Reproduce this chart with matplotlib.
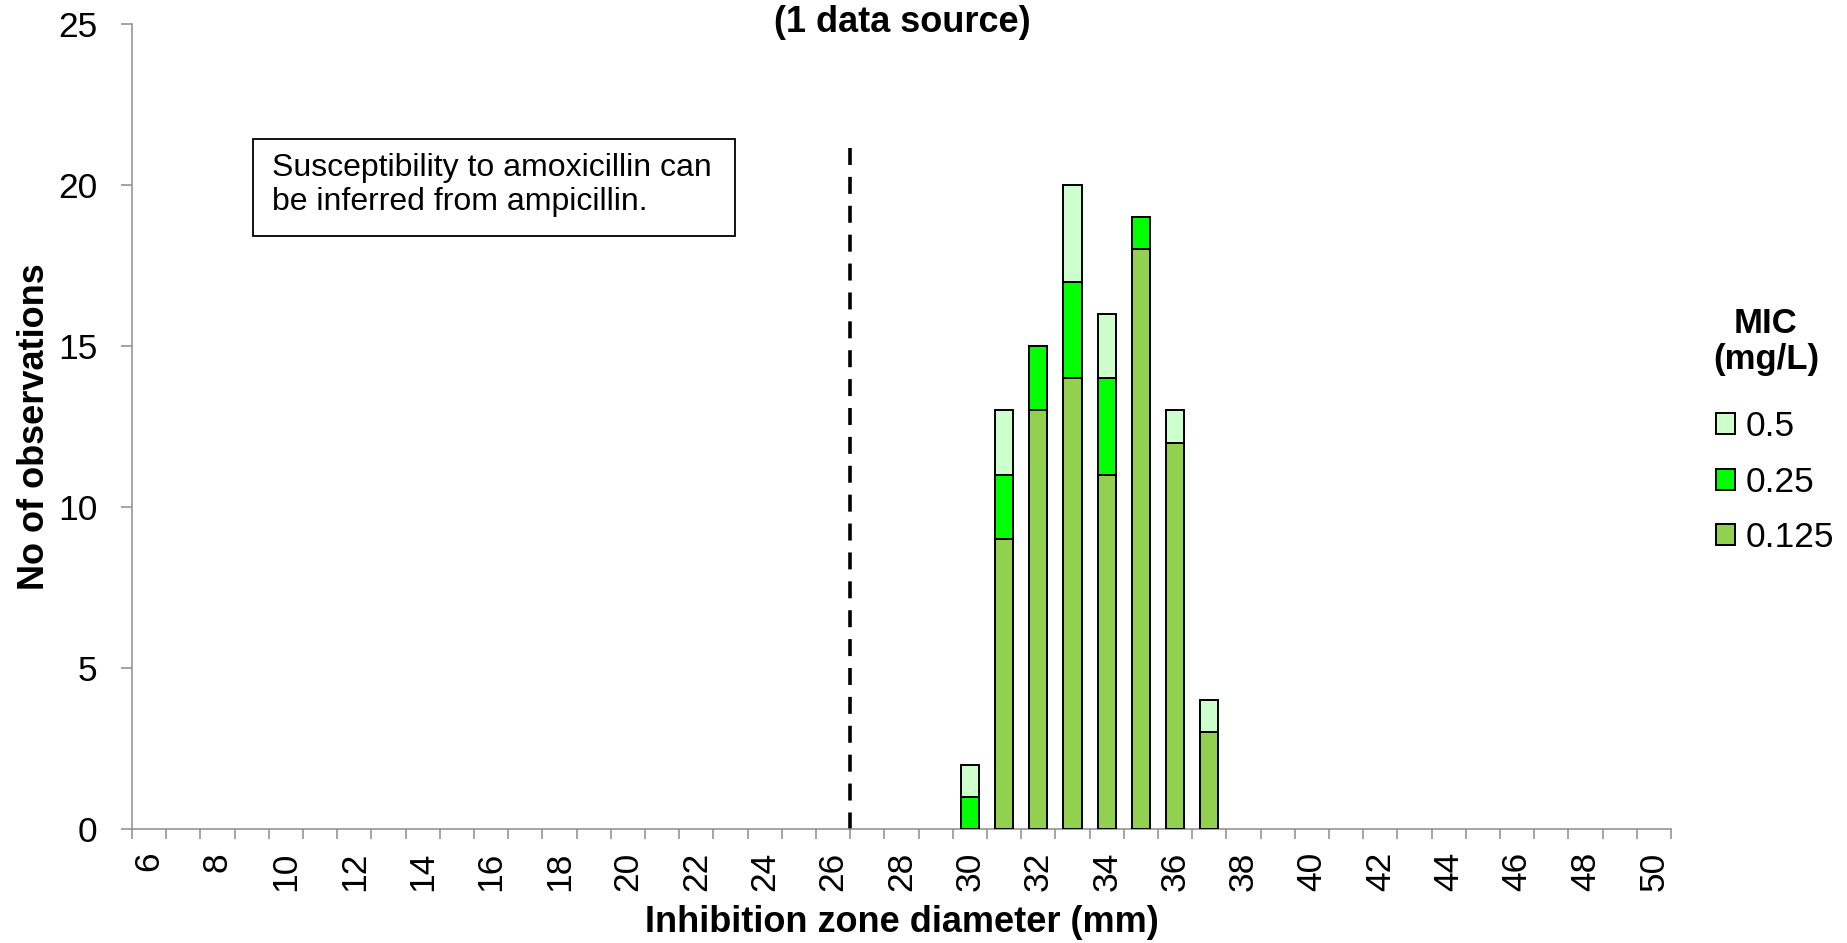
import numpy as np
import matplotlib
matplotlib.use('Agg')
import matplotlib.pyplot as plt

# Inhibition zone diameters (mm) shown on the category axis
zone_mm = list(range(6, 51))
tick_zones = list(range(6, 51, 2))

# Observations per zone diameter, split by MIC (mg/L)
bar_zones = [30, 31, 32, 33, 34, 35, 36, 37]
mic_0125 = [0, 9, 13, 14, 11, 18, 12, 3]
mic_025 = [1, 2, 2, 3, 3, 1, 0, 0]
mic_05 = [1, 2, 0, 3, 2, 0, 1, 1]
mic_labels = ['0.125', '0.25', '0.5']
mic_colors = ['#92D050', '#00FF00', '#CCFFCC']

# Zone diameter breakpoint line (between 26 and 27 mm) and its height
breakpoint_mm = 26.5
breakpoint_top = 21.15

note_text = 'Susceptibility to amoxicillin can\nbe inferred from ampicillin.'

plt.rcParams['font.family'] = ['Liberation Sans', 'DejaVu Sans']
AXIS_GRAY = '#8C8C8C'
W, H = 1847, 943

fig = plt.figure(figsize=(W / 100, H / 100), dpi=100)
ax = fig.add_axes([132 / W, 1 - 829 / H, (1671 - 132) / W, (829 - 24) / H])


def pos(z):
    return zone_mm.index(z)


x = np.array([pos(z) for z in bar_zones])
bottom = np.zeros(len(bar_zones))
handles = []
for vals, lab, col in zip([mic_0125, mic_025, mic_05], mic_labels, mic_colors):
    vals = np.array(vals, dtype=float)
    b = ax.bar(x, vals, width=0.53, bottom=bottom, color=col,
               edgecolor='black', linewidth=1.4, label=lab, zorder=3)
    handles.append(b)
    bottom += vals

# breakpoint, drawn from the top down so the dash pattern starts at the top
bx = pos(int(breakpoint_mm)) + (breakpoint_mm - int(breakpoint_mm))
ax.vlines(bx, breakpoint_top, 0, colors='black', linewidth=2.6,
          linestyles=(0, (4.7, 3.3)), zorder=2)

ax.set_xlim(-0.5, len(zone_mm) - 0.5)
ax.set_ylim(0, 25)
ax.set_yticks(range(0, 26, 5))

ax.set_xticks([pos(z) for z in tick_zones])
ax.set_xticklabels([str(z) for z in tick_zones], rotation=90)
ax.set_xticks(np.arange(-0.5, len(zone_mm)), minor=True)
ax.tick_params(axis='x', which='major', length=0, pad=16.5, labelsize=25.5)
ax.tick_params(axis='x', which='minor', length=7.5, width=1.1, color=AXIS_GRAY)
ax.tick_params(axis='y', length=8, width=1.1, color=AXIS_GRAY, pad=17, labelsize=25.5)

for s in ['top', 'right']:
    ax.spines[s].set_visible(False)
for s in ['left', 'bottom']:
    ax.spines[s].set_color(AXIS_GRAY)
    ax.spines[s].set_linewidth(1.1)

ax.set_xlabel('Inhibition zone diameter (mm)', fontsize=26, fontweight='bold', labelpad=10)
ax.set_ylabel('No of observations', fontsize=26, fontweight='bold', labelpad=4.5)

fig.text(0.4885, 1 - 22.5 / H, '(1 data source)', ha='center', va='center',
         fontsize=26, fontweight='bold')

# note box
box = plt.Rectangle((253 / W, 1 - 235.5 / H), (735 - 253) / W, (235.5 - 139) / H,
                    transform=fig.transFigure, facecolor='white', edgecolor='black',
                    linewidth=1.3, zorder=5)
fig.patches.append(box)
fig.text(272 / W, 1 - 185 / H, note_text, ha='left', va='center', fontsize=23,
         linespacing=1.2, zorder=6)

# legend: title drawn as text, entries through ax.legend
fig.text(1766 / W, 1 - 341.5 / H, 'MIC\n(mg/L)', ha='center', va='center',
         multialignment='center', fontsize=25, fontweight='bold', linespacing=1.15)
leg = ax.legend(handles[::-1], mic_labels[::-1],
                loc='upper left', bbox_to_anchor=(1716 / W, 1 - 410 / H),
                bbox_transform=fig.transFigure, frameon=False, fontsize=25.5,
                handlelength=0.54, handleheight=0.54, handletextpad=0.3,
                labelspacing=0.64, borderpad=0, borderaxespad=0)

fig.savefig('out.png', dpi=100)
